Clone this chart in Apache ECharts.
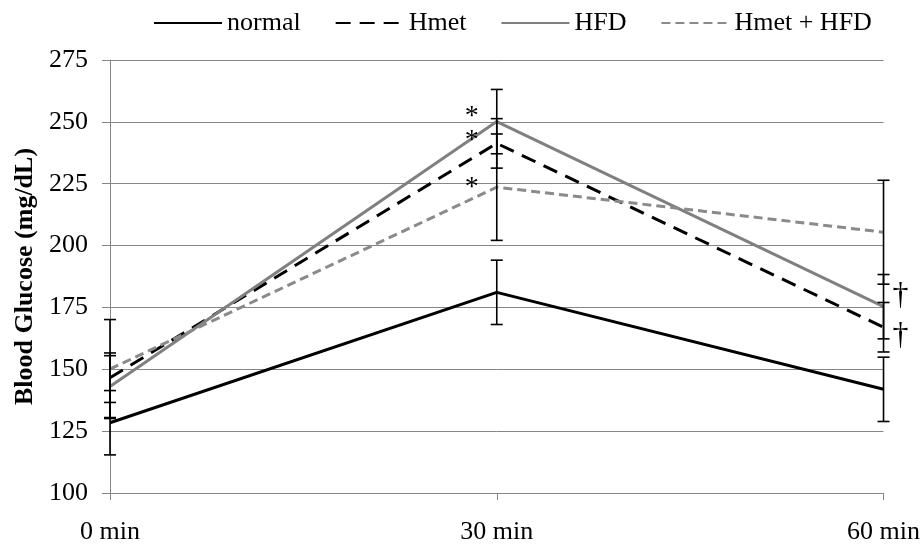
<!DOCTYPE html>
<html>
<head>
<meta charset="utf-8">
<script src="https://cdn.jsdelivr.net/npm/echarts@6/dist/echarts.min.js"></script>
<style>
  html, body { margin: 0; padding: 0; background: #fff; }
  #chart { width: 923px; height: 547px; }
</style>
</head>
<body>
<div id="chart"></div>
<script>
// time points
const times = ['0 min', '30 min', '60 min'];

// group means and error (+/-)
const normalMean = [128.4, 181.1, 141.9];
const normalErr = [13, 13, 13];
const hmetMean = [146.6, 241.3, 167];
const hmetErr = [10, 10, 10];
const hfdMean = [143, 250.1, 175.3];
const hfdErr = [12.5, 13, 13];
const comboMean = [150.1, 223.6, 205.4];
const comboErr = [20, 21.5, 21];

// significance marks per point
const normalMarks = ['', '', ''];
const hmetMarks = ['', '*', '†'];
const hfdMarks = ['', '*', '†'];
const comboMarks = ['', '*', ''];

// y axis range
const yMin = 100;
const yMax = 275;
const yStep = 25;

const FONT = 'Liberation Serif';
const GRID_GRAY = '#868686';

function lineSeries(name, means, lineStyle) {
  return {
    name: name,
    type: 'line',
    symbol: 'none',
    z: 3,
    lineStyle: lineStyle,
    itemStyle: { color: lineStyle.color },
    data: means
  };
}

// error bars + the * / † marks next to them
// markDy: vertical nudge of each mark from its point (px)
function errorBars(name, means, errs, marks, markDy) {
  return {
    name: name + ' error',
    type: 'custom',
    z: 6,
    silent: true,
    encode: { x: 0, y: [1, 2] },
    data: means.map((m, i) => [i, m - errs[i], m + errs[i], m]),
    renderItem: function (params, api) {
      const i = params.dataIndex;
      const lo = api.coord([api.value(0), api.value(1)]);
      const hi = api.coord([api.value(0), api.value(2)]);
      const pt = api.coord([api.value(0), api.value(3)]);
      const w = 6;
      const style = { stroke: '#000', lineWidth: 1.6 };
      const children = [
        { type: 'line', shape: { x1: hi[0], y1: hi[1], x2: lo[0], y2: lo[1] }, style: style },
        { type: 'line', shape: { x1: hi[0] - w, y1: hi[1], x2: hi[0] + w, y2: hi[1] }, style: style },
        { type: 'line', shape: { x1: lo[0] - w, y1: lo[1], x2: lo[0] + w, y2: lo[1] }, style: style }
      ];
      const mark = marks[i];
      if (mark) {
        const left = mark === '*';
        children.push({
          type: 'text',
          x: left ? pt[0] - 18 : pt[0] + 9,
          y: pt[1] + markDy[i],
          style: {
            text: mark,
            fill: '#000',
            fontFamily: FONT,
            fontSize: left ? 28 : 32,
            align: left ? 'right' : 'left',
            verticalAlign: 'middle'
          }
        });
      }
      return { type: 'group', children: children };
    }
  };
}

const chart = echarts.init(document.getElementById('chart'));

chart.setOption({
  animation: false,
  backgroundColor: '#fff',
  legend: {
    data: ['normal', 'Hmet', 'HFD', 'Hmet + HFD'],
    left: 148,
    top: 5,
    itemWidth: 68,
    itemHeight: 14,
    itemGap: 34,
    itemStyle: { opacity: 0 },
    textStyle: { color: '#000', fontFamily: FONT, fontSize: 26 }
  },
  grid: { left: 110, right: 38, top: 60, bottom: 54 },
  xAxis: {
    type: 'category',
    boundaryGap: false,
    data: times,
    axisLine: { lineStyle: { color: GRID_GRAY, width: 1 } },
    axisTick: { show: true, length: 7, lineStyle: { color: GRID_GRAY } },
    axisLabel: { color: '#000', fontFamily: FONT, fontSize: 26, margin: 26 },
    splitLine: { show: false }
  },
  yAxis: {
    type: 'value',
    min: yMin,
    max: yMax,
    interval: yStep,
    name: 'Blood Glucose (mg/dL)',
    nameLocation: 'middle',
    nameGap: 70,
    nameTextStyle: { color: '#000', fontFamily: FONT, fontSize: 26, fontWeight: 'bold' },
    axisLine: { show: true, lineStyle: { color: GRID_GRAY, width: 1 } },
    axisTick: { show: true, length: 8, lineStyle: { color: GRID_GRAY } },
    axisLabel: { color: '#000', fontFamily: FONT, fontSize: 26, margin: 22 },
    splitLine: { lineStyle: { color: GRID_GRAY, width: 1 } }
  },
  series: [
    lineSeries('normal', normalMean, { color: '#000', width: 3, type: 'solid' }),
    lineSeries('Hmet', hmetMean, { color: '#000', width: 3, type: [15, 9] }),
    lineSeries('HFD', hfdMean, { color: '#808080', width: 3, type: 'solid' }),
    lineSeries('Hmet + HFD', comboMean, { color: '#8a8a8a', width: 3, type: [9, 5] }),
    errorBars('normal', normalMean, normalErr, normalMarks, [0, 0, 0]),
    errorBars('Hmet', hmetMean, hmetErr, hmetMarks, [0, -3, 8.5]),
    errorBars('HFD', hfdMean, hfdErr, hfdMarks, [0, -5, -11]),
    errorBars('Hmet + HFD', comboMean, comboErr, comboMarks, [0, 0, 0])
  ]
});
</script>
</body>
</html>
